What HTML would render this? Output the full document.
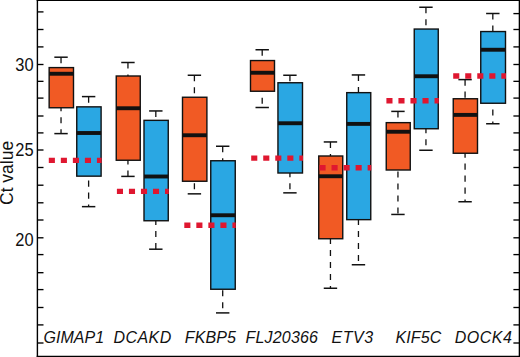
<!DOCTYPE html><html><head><meta charset="utf-8"><style>html,body{margin:0;padding:0;background:#fff;}body{width:520px;height:357px;overflow:hidden;position:relative;}svg{position:absolute;left:0;top:0;display:block;}text{font-family:"Liberation Sans",sans-serif;}</style></head><body><svg width="520" height="357" viewBox="0 0 520 357"><rect x="0" y="0" width="520" height="357" fill="#fff"/><line x1="61.03" y1="57.20" x2="61.03" y2="133.60" stroke="#111" stroke-width="1.3" stroke-dasharray="6.1 5.9"/><line x1="54.33" y1="57.20" x2="67.73" y2="57.20" stroke="#111" stroke-width="1.5"/><line x1="54.33" y1="133.60" x2="67.73" y2="133.60" stroke="#111" stroke-width="1.5"/><rect x="49.15" y="67.60" width="24.35" height="40.15" fill="#F15A24" stroke="#111" stroke-width="1.4"/><line x1="49.15" y1="73.75" x2="73.50" y2="73.75" stroke="#111" stroke-width="3.9"/><line x1="88.62" y1="96.60" x2="88.62" y2="206.65" stroke="#111" stroke-width="1.3" stroke-dasharray="6.1 5.9"/><line x1="81.92" y1="96.60" x2="95.33" y2="96.60" stroke="#111" stroke-width="1.5"/><line x1="81.92" y1="206.65" x2="95.33" y2="206.65" stroke="#111" stroke-width="1.5"/><rect x="76.75" y="106.85" width="24.35" height="69.30" fill="#2AA7E3" stroke="#111" stroke-width="1.4"/><line x1="76.75" y1="133.00" x2="101.10" y2="133.00" stroke="#111" stroke-width="3.9"/><line x1="127.95" y1="62.50" x2="127.95" y2="176.40" stroke="#111" stroke-width="1.3" stroke-dasharray="6.1 5.9"/><line x1="121.25" y1="62.50" x2="134.65" y2="62.50" stroke="#111" stroke-width="1.5"/><line x1="121.25" y1="176.40" x2="134.65" y2="176.40" stroke="#111" stroke-width="1.5"/><rect x="116.25" y="76.00" width="24.00" height="84.25" fill="#F15A24" stroke="#111" stroke-width="1.4"/><line x1="116.25" y1="108.25" x2="140.25" y2="108.25" stroke="#111" stroke-width="3.9"/><line x1="155.82" y1="110.95" x2="155.82" y2="249.20" stroke="#111" stroke-width="1.3" stroke-dasharray="6.1 5.9"/><line x1="149.12" y1="110.95" x2="162.52" y2="110.95" stroke="#111" stroke-width="1.5"/><line x1="149.12" y1="249.20" x2="162.52" y2="249.20" stroke="#111" stroke-width="1.5"/><rect x="144.00" y="120.35" width="24.25" height="100.40" fill="#2AA7E3" stroke="#111" stroke-width="1.4"/><line x1="144.00" y1="176.50" x2="168.25" y2="176.50" stroke="#111" stroke-width="3.9"/><line x1="194.40" y1="75.25" x2="194.40" y2="193.85" stroke="#111" stroke-width="1.3" stroke-dasharray="6.1 5.9"/><line x1="187.70" y1="75.25" x2="201.10" y2="75.25" stroke="#111" stroke-width="1.5"/><line x1="187.70" y1="193.85" x2="201.10" y2="193.85" stroke="#111" stroke-width="1.5"/><rect x="182.50" y="97.25" width="24.40" height="84.00" fill="#F15A24" stroke="#111" stroke-width="1.4"/><line x1="182.50" y1="135.25" x2="206.90" y2="135.25" stroke="#111" stroke-width="3.9"/><line x1="222.70" y1="146.25" x2="222.70" y2="312.90" stroke="#111" stroke-width="1.3" stroke-dasharray="6.1 5.9"/><line x1="216.00" y1="146.25" x2="229.40" y2="146.25" stroke="#111" stroke-width="1.5"/><line x1="216.00" y1="312.90" x2="229.40" y2="312.90" stroke="#111" stroke-width="1.5"/><rect x="210.75" y="160.75" width="24.50" height="128.50" fill="#2AA7E3" stroke="#111" stroke-width="1.4"/><line x1="210.75" y1="215.25" x2="235.25" y2="215.25" stroke="#111" stroke-width="3.9"/><line x1="262.20" y1="49.75" x2="262.20" y2="107.50" stroke="#111" stroke-width="1.3" stroke-dasharray="6.1 5.9"/><line x1="255.50" y1="49.75" x2="268.90" y2="49.75" stroke="#111" stroke-width="1.5"/><line x1="255.50" y1="107.50" x2="268.90" y2="107.50" stroke="#111" stroke-width="1.5"/><rect x="250.50" y="60.55" width="24.00" height="30.70" fill="#F15A24" stroke="#111" stroke-width="1.4"/><line x1="250.50" y1="72.75" x2="274.50" y2="72.75" stroke="#111" stroke-width="3.9"/><line x1="289.93" y1="75.25" x2="289.93" y2="192.85" stroke="#111" stroke-width="1.3" stroke-dasharray="6.1 5.9"/><line x1="283.23" y1="75.25" x2="296.62" y2="75.25" stroke="#111" stroke-width="1.5"/><line x1="283.23" y1="192.85" x2="296.62" y2="192.85" stroke="#111" stroke-width="1.5"/><rect x="277.95" y="82.75" width="24.55" height="90.25" fill="#2AA7E3" stroke="#111" stroke-width="1.4"/><line x1="277.95" y1="123.25" x2="302.50" y2="123.25" stroke="#111" stroke-width="3.9"/><line x1="330.45" y1="141.95" x2="330.45" y2="288.25" stroke="#111" stroke-width="1.3" stroke-dasharray="6.1 5.9"/><line x1="323.75" y1="141.95" x2="337.15" y2="141.95" stroke="#111" stroke-width="1.5"/><line x1="323.75" y1="288.25" x2="337.15" y2="288.25" stroke="#111" stroke-width="1.5"/><rect x="318.75" y="156.00" width="24.00" height="82.75" fill="#F15A24" stroke="#111" stroke-width="1.4"/><line x1="318.75" y1="176.25" x2="342.75" y2="176.25" stroke="#111" stroke-width="3.9"/><line x1="358.45" y1="74.95" x2="358.45" y2="264.75" stroke="#111" stroke-width="1.3" stroke-dasharray="6.1 5.9"/><line x1="351.75" y1="74.95" x2="365.15" y2="74.95" stroke="#111" stroke-width="1.5"/><line x1="351.75" y1="264.75" x2="365.15" y2="264.75" stroke="#111" stroke-width="1.5"/><rect x="346.75" y="92.65" width="24.00" height="127.00" fill="#2AA7E3" stroke="#111" stroke-width="1.4"/><line x1="346.75" y1="123.90" x2="370.75" y2="123.90" stroke="#111" stroke-width="3.9"/><line x1="397.95" y1="111.40" x2="397.95" y2="214.45" stroke="#111" stroke-width="1.3" stroke-dasharray="6.1 5.9"/><line x1="391.25" y1="111.40" x2="404.65" y2="111.40" stroke="#111" stroke-width="1.5"/><line x1="391.25" y1="214.45" x2="404.65" y2="214.45" stroke="#111" stroke-width="1.5"/><rect x="386.25" y="122.65" width="24.00" height="47.35" fill="#F15A24" stroke="#111" stroke-width="1.4"/><line x1="386.25" y1="131.75" x2="410.25" y2="131.75" stroke="#111" stroke-width="3.9"/><line x1="425.95" y1="7.25" x2="425.95" y2="150.25" stroke="#111" stroke-width="1.3" stroke-dasharray="6.1 5.9"/><line x1="419.25" y1="7.25" x2="432.65" y2="7.25" stroke="#111" stroke-width="1.5"/><line x1="419.25" y1="150.25" x2="432.65" y2="150.25" stroke="#111" stroke-width="1.5"/><rect x="414.25" y="29.05" width="24.00" height="99.70" fill="#2AA7E3" stroke="#111" stroke-width="1.4"/><line x1="414.25" y1="76.25" x2="438.25" y2="76.25" stroke="#111" stroke-width="3.9"/><line x1="465.07" y1="79.60" x2="465.07" y2="201.75" stroke="#111" stroke-width="1.3" stroke-dasharray="6.1 5.9"/><line x1="458.38" y1="79.60" x2="471.77" y2="79.60" stroke="#111" stroke-width="1.5"/><line x1="458.38" y1="201.75" x2="471.77" y2="201.75" stroke="#111" stroke-width="1.5"/><rect x="453.25" y="98.75" width="24.25" height="54.50" fill="#F15A24" stroke="#111" stroke-width="1.4"/><line x1="453.25" y1="114.90" x2="477.50" y2="114.90" stroke="#111" stroke-width="3.9"/><line x1="492.82" y1="13.50" x2="492.82" y2="123.75" stroke="#111" stroke-width="1.3" stroke-dasharray="6.1 5.9"/><line x1="486.12" y1="13.50" x2="499.52" y2="13.50" stroke="#111" stroke-width="1.5"/><line x1="486.12" y1="123.75" x2="499.52" y2="123.75" stroke="#111" stroke-width="1.5"/><rect x="480.75" y="31.55" width="24.75" height="71.70" fill="#2AA7E3" stroke="#111" stroke-width="1.4"/><line x1="480.75" y1="49.75" x2="505.50" y2="49.75" stroke="#111" stroke-width="3.9"/><line x1="48.80" y1="160.35" x2="101.60" y2="160.35" stroke="#DF1730" stroke-width="5.4" stroke-dasharray="6.1 5.93"/><line x1="116.90" y1="191.35" x2="168.75" y2="191.35" stroke="#DF1730" stroke-width="5.4" stroke-dasharray="6.1 5.93"/><line x1="184.30" y1="225.30" x2="235.75" y2="225.30" stroke="#DF1730" stroke-width="5.4" stroke-dasharray="6.1 5.93"/><line x1="251.20" y1="158.10" x2="303.00" y2="158.10" stroke="#DF1730" stroke-width="5.4" stroke-dasharray="6.1 5.93"/><line x1="319.50" y1="167.70" x2="371.25" y2="167.70" stroke="#DF1730" stroke-width="5.4" stroke-dasharray="6.1 5.93"/><line x1="386.40" y1="100.70" x2="438.75" y2="100.70" stroke="#DF1730" stroke-width="5.4" stroke-dasharray="6.1 5.93"/><line x1="453.20" y1="75.95" x2="506.00" y2="75.95" stroke="#DF1730" stroke-width="5.4" stroke-dasharray="6.1 5.93"/><line x1="37.4" y1="0" x2="37.4" y2="357" stroke="#000" stroke-width="1.4"/><line x1="519.35" y1="0" x2="519.35" y2="357" stroke="#000" stroke-width="1.3"/><line x1="36.7" y1="0.55" x2="520" y2="0.55" stroke="#000" stroke-width="1.1"/><line x1="36.7" y1="356.35" x2="520" y2="356.35" stroke="#000" stroke-width="1.3"/><line x1="37.4" y1="343.00" x2="43.5" y2="343.00" stroke="#000" stroke-width="1.35"/><line x1="513.4" y1="343.00" x2="519.3" y2="343.00" stroke="#000" stroke-width="1.35"/><line x1="37.4" y1="324.90" x2="43.5" y2="324.90" stroke="#000" stroke-width="1.35"/><line x1="513.4" y1="324.90" x2="519.3" y2="324.90" stroke="#000" stroke-width="1.35"/><line x1="37.4" y1="307.50" x2="43.5" y2="307.50" stroke="#000" stroke-width="1.35"/><line x1="513.4" y1="307.50" x2="519.3" y2="307.50" stroke="#000" stroke-width="1.35"/><line x1="37.4" y1="289.60" x2="43.5" y2="289.60" stroke="#000" stroke-width="1.35"/><line x1="513.4" y1="289.60" x2="519.3" y2="289.60" stroke="#000" stroke-width="1.35"/><line x1="37.4" y1="272.70" x2="43.5" y2="272.70" stroke="#000" stroke-width="1.35"/><line x1="513.4" y1="272.70" x2="519.3" y2="272.70" stroke="#000" stroke-width="1.35"/><line x1="37.4" y1="254.60" x2="43.5" y2="254.60" stroke="#000" stroke-width="1.35"/><line x1="513.4" y1="254.60" x2="519.3" y2="254.60" stroke="#000" stroke-width="1.35"/><line x1="37.4" y1="237.80" x2="43.5" y2="237.80" stroke="#000" stroke-width="1.35"/><line x1="513.4" y1="237.80" x2="519.3" y2="237.80" stroke="#000" stroke-width="1.35"/><line x1="37.4" y1="220.00" x2="43.5" y2="220.00" stroke="#000" stroke-width="1.35"/><line x1="513.4" y1="220.00" x2="519.3" y2="220.00" stroke="#000" stroke-width="1.35"/><line x1="37.4" y1="202.80" x2="43.5" y2="202.80" stroke="#000" stroke-width="1.35"/><line x1="513.4" y1="202.80" x2="519.3" y2="202.80" stroke="#000" stroke-width="1.35"/><line x1="37.4" y1="185.20" x2="43.5" y2="185.20" stroke="#000" stroke-width="1.35"/><line x1="513.4" y1="185.20" x2="519.3" y2="185.20" stroke="#000" stroke-width="1.35"/><line x1="37.4" y1="167.50" x2="43.5" y2="167.50" stroke="#000" stroke-width="1.35"/><line x1="513.4" y1="167.50" x2="519.3" y2="167.50" stroke="#000" stroke-width="1.35"/><line x1="37.4" y1="150.00" x2="43.5" y2="150.00" stroke="#000" stroke-width="1.35"/><line x1="513.4" y1="150.00" x2="519.3" y2="150.00" stroke="#000" stroke-width="1.35"/><line x1="37.4" y1="132.90" x2="43.5" y2="132.90" stroke="#000" stroke-width="1.35"/><line x1="513.4" y1="132.90" x2="519.3" y2="132.90" stroke="#000" stroke-width="1.35"/><line x1="37.4" y1="116.00" x2="43.5" y2="116.00" stroke="#000" stroke-width="1.35"/><line x1="513.4" y1="116.00" x2="519.3" y2="116.00" stroke="#000" stroke-width="1.35"/><line x1="37.4" y1="98.10" x2="43.5" y2="98.10" stroke="#000" stroke-width="1.35"/><line x1="513.4" y1="98.10" x2="519.3" y2="98.10" stroke="#000" stroke-width="1.35"/><line x1="37.4" y1="81.35" x2="43.5" y2="81.35" stroke="#000" stroke-width="1.35"/><line x1="513.4" y1="81.35" x2="519.3" y2="81.35" stroke="#000" stroke-width="1.35"/><line x1="37.4" y1="64.50" x2="43.5" y2="64.50" stroke="#000" stroke-width="1.35"/><line x1="513.4" y1="64.50" x2="519.3" y2="64.50" stroke="#000" stroke-width="1.35"/><line x1="37.4" y1="46.90" x2="43.5" y2="46.90" stroke="#000" stroke-width="1.35"/><line x1="513.4" y1="46.90" x2="519.3" y2="46.90" stroke="#000" stroke-width="1.35"/><line x1="37.4" y1="29.50" x2="43.5" y2="29.50" stroke="#000" stroke-width="1.35"/><line x1="513.4" y1="29.50" x2="519.3" y2="29.50" stroke="#000" stroke-width="1.35"/><line x1="37.4" y1="11.90" x2="43.5" y2="11.90" stroke="#000" stroke-width="1.35"/><line x1="513.4" y1="13.60" x2="519.3" y2="13.60" stroke="#000" stroke-width="1.35"/><text transform="translate(33.6,70.7) scale(0.9,1)" x="0" y="0" font-size="18.3" text-anchor="end" fill="#111">30</text><text transform="translate(33.6,155.9) scale(0.9,1)" x="0" y="0" font-size="18.3" text-anchor="end" fill="#111">25</text><text transform="translate(33.6,245.9) scale(0.9,1)" x="0" y="0" font-size="18.3" text-anchor="end" fill="#111">20</text><text transform="translate(13.0,172.9) rotate(-90)" font-size="17.5" text-anchor="middle" fill="#111">Ct value</text><text x="43.60" y="343.3" font-size="16" font-style="italic" fill="#111" textLength="60.5" lengthAdjust="spacing">GIMAP1</text><text x="113.40" y="343.3" font-size="16" font-style="italic" fill="#111" textLength="57.8" lengthAdjust="spacing">DCAKD</text><text x="184.70" y="343.3" font-size="16" font-style="italic" fill="#111" textLength="51.3" lengthAdjust="spacing">FKBP5</text><text x="245.40" y="343.3" font-size="16" font-style="italic" fill="#111" textLength="72.6" lengthAdjust="spacing">FLJ20366</text><text x="331.40" y="343.3" font-size="16" font-style="italic" fill="#111" textLength="41.8" lengthAdjust="spacing">ETV3</text><text x="395.40" y="343.3" font-size="16" font-style="italic" fill="#111" textLength="45.8" lengthAdjust="spacing">KIF5C</text><text x="454.80" y="343.3" font-size="16" font-style="italic" fill="#111" textLength="57.1" lengthAdjust="spacing">DOCK4</text></svg></body></html>
